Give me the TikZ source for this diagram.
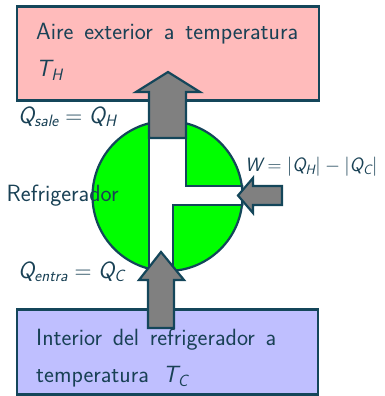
\RequirePackage{fix-cm}
\documentclass[tikz,border=0pt]{standalone}
\usepackage{amsmath}
\usetikzlibrary{positioning}
\definecolor{bordeazul}{RGB}{20,70,90}
\definecolor{textoazul}{RGB}{25,65,85}
\definecolor{calorrosa}{RGB}{255,187,187}
\definecolor{friolila}{RGB}{191,191,255}
\definecolor{maquinaverde}{RGB}{0,255,0}
\definecolor{flechagris}{RGB}{128,128,128}
\newcommand{\sv}[1]{\text{\sffamily\slshape #1}}

\begin{document}
\begin{tikzpicture}[x=1pt, y=-1pt,
    every node/.style={text=textoazul, inner sep=0pt},
    caja/.style={rectangle, draw=bordeazul, line width=2.5pt},
    texto/.style={font=\sffamily\fontsize{23.5}{37}\selectfont, align=left},
    etiqueta/.style={font=\sffamily\fontsize{23.5}{28}\selectfont},
    flecha/.style={draw=bordeazul, fill=flechagris, line width=2.2pt, line join=miter},
    canal/.style={draw=bordeazul, line width=2.2pt}
]
\useasboundingbox (0,0) rectangle (384,396);

% Reservoirs
\node[caja, fill=calorrosa, minimum width=302pt, minimum height=94pt] (aire) at (167.8,53.4) {};
\node[caja, fill=friolila, minimum width=301pt, minimum height=85pt] (interior) at (167.7,352) {};

% Refrigerator body
\node[circle, fill=maquinaverde, minimum size=150pt] (refri) at (167.5,196) {};
\begin{scope}
  \clip (refri.center) circle[radius=76.5];
  \fill[white] (149,100) -- (186,100) -- (186,186) -- (260,186) -- (260,205)
    -- (173,205) -- (173,290) -- (149,290) -- cycle;
  \draw[canal] (149,100) -- (149,290);
  \draw[canal] (186,100) -- (186,186) -- (260,186);
  \draw[canal] (260,205) -- (173,205) -- (173,290);
\end{scope}
\draw[canal] (refri.center) circle[radius=75];

% Heat and work arrows
\draw[flecha] (149,138) -- (149,92) -- (136,92) -- (168,72) -- (200,92) -- (186,92) -- (186,138) -- cycle;
\draw[flecha] (148,328) -- (148,280) -- (139,280) -- (161,252) -- (184,280) -- (174,280) -- (174,328) -- cycle;
\draw[flecha] (282,186) -- (253,186) -- (253,178) -- (238,195.5) -- (253,213) -- (253,205) -- (282,205) -- cycle;

% Texts
\node[texto, anchor=north west] (airetxt) at (36,23)
  {\makebox[262pt][s]{Aire exterior a temperatura}\\$\sv{T}_{\sv{H}}$};
\node[texto, anchor=north west] (interiortxt) at (36,329)
  {\makebox[240pt][s]{Interior del refrigerador a}\\\makebox[152pt][s]{temperatura $\sv{T}_{\sv{C}}$}};
\node[etiqueta, anchor=base west] (qsale) at (18,123) {$\sv{Q}_{\sv{sale}} = \sv{Q}_{\sv{H}}$};
\node[etiqueta, anchor=base west] (refritxt) at (6.5,201) {Refrigerador};
\node[etiqueta, anchor=base west] (qentra) at (18,278) {$\sv{Q}_{\sv{entra}} = \sv{Q}_{\sv{C}}$};
\node[etiqueta, font=\sffamily\fontsize{19.3}{23}\selectfont, anchor=base west] (trabajo) at (245,171)
  {$\sv{W} = |\sv{Q}_{\sv{H}}| - |\sv{Q}_{\sv{C}}|$};

\end{tikzpicture}
\end{document}
